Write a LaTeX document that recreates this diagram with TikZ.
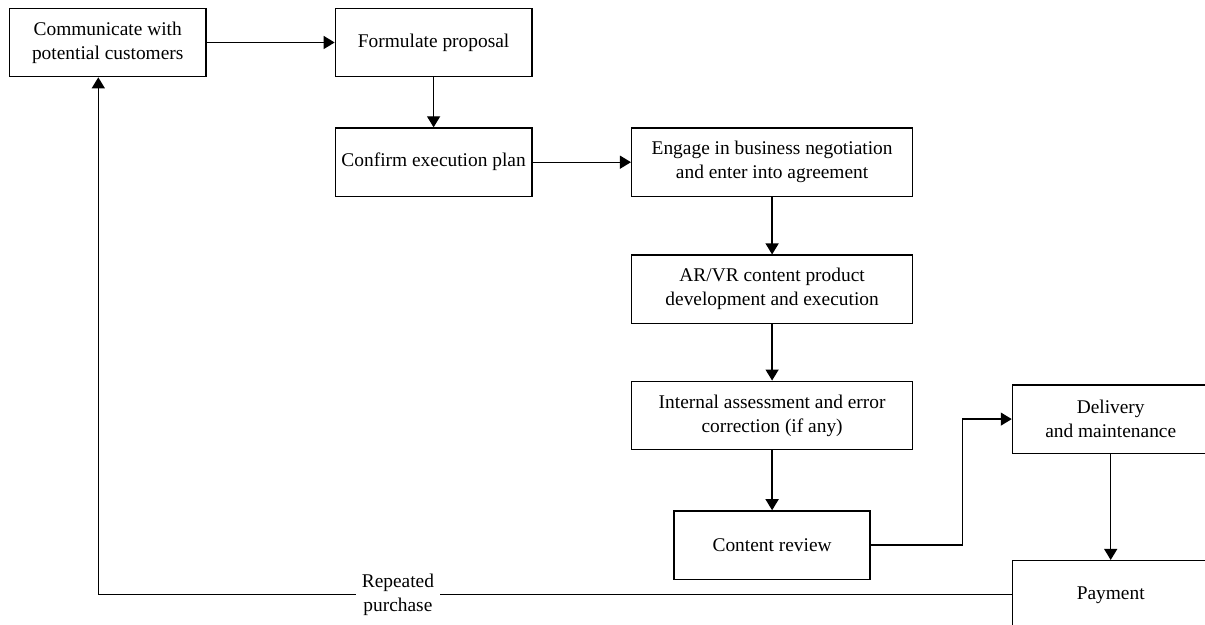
\documentclass[tikz,border=0pt]{standalone}
\usepackage{fontspec}
\setmainfont{Liberation Serif}
\usepackage{tikz}
\usetikzlibrary{shapes,arrows.meta,positioning,calc}
\tikzstyle{stagebox} = [rectangle, draw, line width=0.65pt, align=center, minimum width=98.3pt, minimum height=34.2pt, inner sep=2pt, font=\fontsize{9.7}{12}\selectfont]
\tikzstyle{flow} = [-{Triangle[length=5.5pt,width=6.5pt]}, line width=0.65pt]

\begin{document}
\begin{tikzpicture}[x=0.5pt, y=0.5pt, node distance=25pt and 64pt]

\useasboundingbox (0,0) rectangle (1205,-625);

% First row: contact and proposal
\node[stagebox] (contact) at (107.7,-42.5) {Communicate with\\potential customers};
\node[stagebox, right=64pt of contact] (proposal) {Formulate proposal};

% Plan and agreement
\node[stagebox, below=25pt of proposal] (plan) {Confirm execution plan};
\node[stagebox, right=49.2pt of plan, minimum width=140.5pt] (agreement) {Engage in business negotiation\\and enter into agreement};

% Middle column: development and checks
\node[stagebox, below=28.7pt of agreement, minimum width=140.5pt] (develop) {AR/VR content product\\development and execution};
\node[stagebox, below=28.2pt of develop, minimum width=140.5pt] (assess) {Internal assessment and error\\correction (if any)};
\node[stagebox, below=30pt of assess, minimum width=98pt] (review) {Content review};

% Right column: delivery and payment
\node[stagebox, right=70.5pt of review, yshift=63pt] (delivery) {Delivery\\and maintenance};
\node[stagebox, below=53pt of delivery] (payment) {Payment};

% Loop back corners
\coordinate (bend) at ($(review.east)!0.65!(delivery.west)$);
\coordinate (back) at ([xshift=-4.7pt]contact.south |- payment.west);

% Arrows
\draw[flow] (contact) -- (proposal);
\draw[flow] (proposal) -- (plan);
\draw[flow] (plan) -- (agreement);
\draw[flow] (agreement) -- (develop);
\draw[flow] (develop) -- (assess);
\draw[flow] (assess) -- (review);
\draw[flow] (review.east) -| (bend) |- (delivery.west);
\draw[flow] (delivery) -- (payment);
\draw[flow] (payment.west) -- node[pos=0.672, fill=white, align=center, inner sep=3pt, font=\fontsize{9.7}{12}\selectfont]{Repeated\\purchase} (back) -- ([xshift=-4.7pt]contact.south);

\end{tikzpicture}
\end{document}
